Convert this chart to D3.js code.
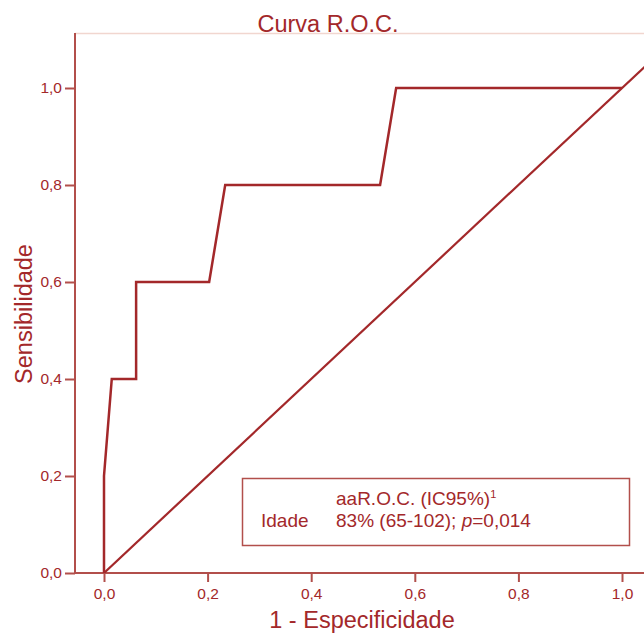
<!DOCTYPE html>
<html>
<head>
<meta charset="utf-8">
<script src="https://cdn.jsdelivr.net/npm/d3@7"></script>
<style>
  body { margin: 0; background: #fff; }
  svg { display: block; font-family: "Liberation Sans", Arial, sans-serif; }
</style>
</head>
<body>
<div id="chart"></div>
<script>
// ROC curve points (1 - especificidade, sensibilidade)
const fpr = [0, 0, 0.015, 0.062, 0.062, 0.203, 0.234, 0.533, 0.564, 1.0];
const tpr = [0, 0.2, 0.4, 0.4, 0.6, 0.6, 0.8, 0.8, 1.0, 1.0];
// reference (chance) line
const refX = [0, 1.2];
const refY = [0, 1.2];
const tickValues = [0, 0.2, 0.4, 0.6, 0.8, 1.0];

const width = 644;
const height = 633;
const red = "#a3282a";
const axisColor = "#b24f4b";

const x = d3.scaleLinear().domain([0, 1]).range([104, 622]);
const y = d3.scaleLinear().domain([0, 1]).range([573, 88]);

const plot = { left: 75, top: 33, right: 660, bottom: 573 };

const svg = d3.select("#chart")
    .append("svg")
    .attr("width", width)
    .attr("height", height);

svg.append("defs").append("clipPath")
    .attr("id", "clip")
    .append("rect")
    .attr("x", plot.left)
    .attr("y", plot.top)
    .attr("width", plot.right - plot.left)
    .attr("height", plot.bottom - plot.top);

// top frame line
svg.append("line")
    .attr("x1", plot.left).attr("x2", plot.right)
    .attr("y1", plot.top + 0.5).attr("y2", plot.top + 0.5)
    .attr("stroke", "#f1d6cf")
    .attr("stroke-width", 1.5);

// Title
svg.append("text")
    .attr("x", 328)
    .attr("y", 32)
    .attr("text-anchor", "middle")
    .attr("fill", red)
    .attr("font-size", "23.5px")
    .text("Curva R.O.C.");

// Axes
const xAxis = svg.append("g")
    .attr("transform", `translate(0,${plot.bottom})`)
    .call(d3.axisBottom(x).tickValues(tickValues).tickSize(9).tickPadding(6)
        .tickFormat(d => d3.format(".1f")(d).replace(".", ",")));
xAxis.select(".domain").attr("d", `M${plot.left},0H${plot.right}`);

const yAxis = svg.append("g")
    .attr("transform", `translate(${plot.left},0)`)
    .call(d3.axisLeft(y).tickValues(tickValues).tickSize(10).tickPadding(3)
        .tickFormat(d => d3.format(".1f")(d).replace(".", ",")));
yAxis.select(".domain").attr("d", `M0,${plot.top}V${plot.bottom}`);

svg.selectAll(".tick line, .domain")
    .attr("stroke", axisColor)
    .attr("stroke-width", 2);
svg.selectAll(".tick text")
    .attr("fill", red)
    .attr("font-family", "Liberation Sans, Arial, sans-serif")
    .attr("font-size", "15.5px");

// Reference line and ROC curve
const g = svg.append("g").attr("clip-path", "url(#clip)");

g.append("path")
    .datum(refX.map((d, i) => [d, refY[i]]))
    .attr("fill", "none")
    .attr("stroke", red)
    .attr("stroke-width", 2.2)
    .attr("d", d3.line().x(d => x(d[0])).y(d => y(d[1])));

g.append("path")
    .datum(fpr.map((d, i) => [d, tpr[i]]))
    .attr("fill", "none")
    .attr("stroke", red)
    .attr("stroke-width", 2.5)
    .attr("stroke-linejoin", "miter")
    .attr("d", d3.line().x(d => x(d[0])).y(d => y(d[1])));

// Legend box
svg.append("rect")
    .attr("x", 242.5)
    .attr("y", 478.5)
    .attr("width", 387)
    .attr("height", 67)
    .attr("fill", "#fff")
    .attr("stroke", axisColor)
    .attr("stroke-width", 1.5);

const l1 = svg.append("text")
    .attr("x", 336).attr("y", 505)
    .attr("fill", red).attr("font-size", "19px")
    .text("aaR.O.C. (IC95%)");
l1.append("tspan")
    .attr("font-size", "11px")
    .attr("dy", -7)
    .text("1");

svg.append("text")
    .attr("x", 261).attr("y", 527)
    .attr("fill", red).attr("font-size", "19px")
    .text("Idade");

const l2 = svg.append("text")
    .attr("x", 336).attr("y", 527)
    .attr("fill", red).attr("font-size", "19px");
l2.append("tspan").text("83% (65-102); ");
l2.append("tspan").attr("font-style", "italic").text("p");
l2.append("tspan").text("=0,014");

// Axis titles
svg.append("text")
    .attr("x", 362)
    .attr("y", 628)
    .attr("text-anchor", "middle")
    .attr("fill", red)
    .attr("font-size", "23.5px")
    .text("1 - Especificidade");

svg.append("text")
    .attr("transform", "rotate(-90)")
    .attr("x", -314)
    .attr("y", 32)
    .attr("text-anchor", "middle")
    .attr("fill", red)
    .attr("font-size", "23.5px")
    .text("Sensibilidade");
</script>
</body>
</html>
